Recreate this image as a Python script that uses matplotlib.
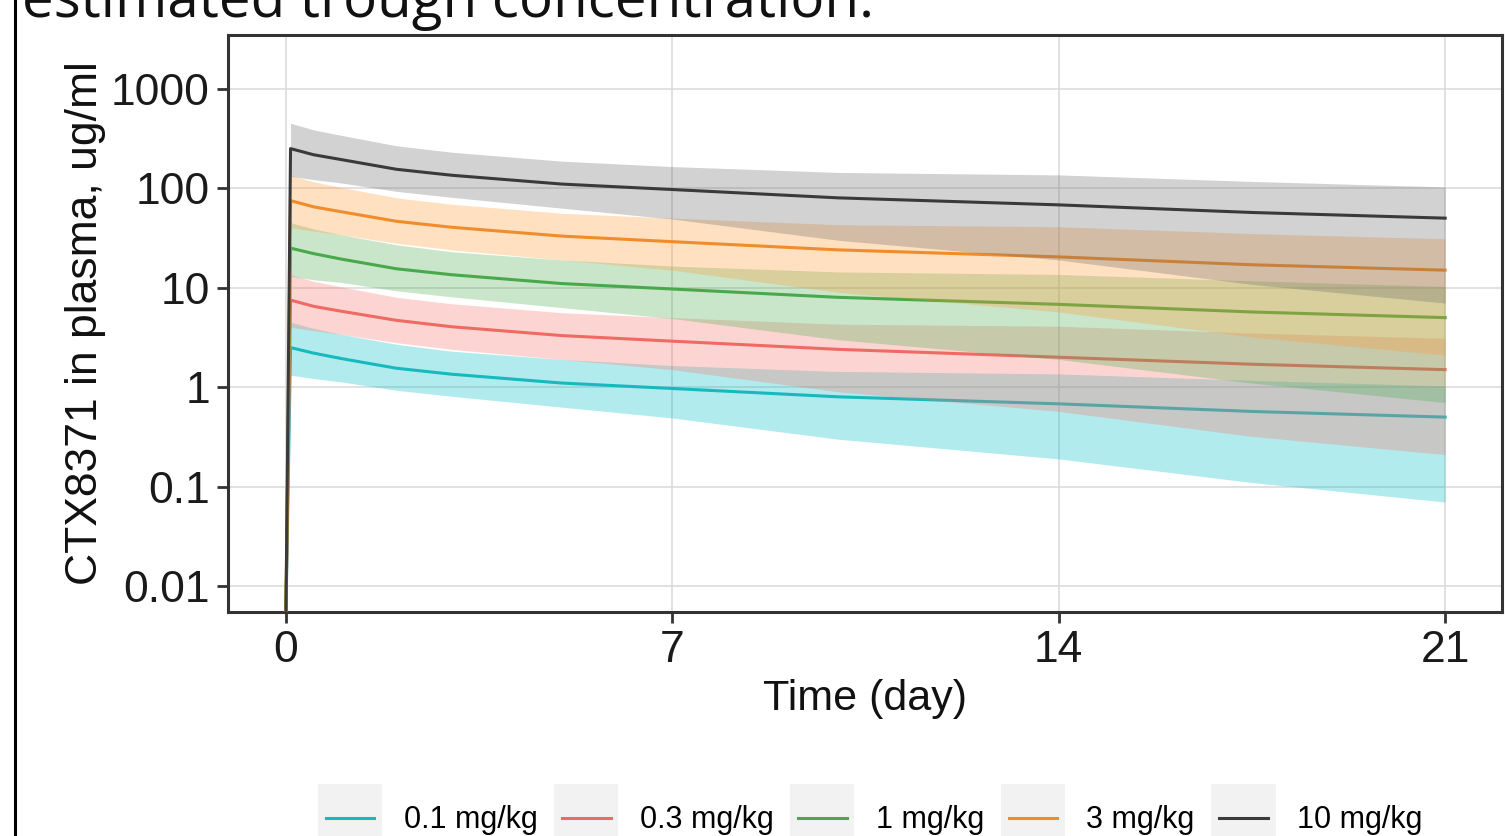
import matplotlib
matplotlib.use("Agg")
import matplotlib.pyplot as plt
from matplotlib.lines import Line2D
from matplotlib.patches import Rectangle
from matplotlib.legend_handler import HandlerBase

plt.rcParams['font.family'] = ['Liberation Sans', 'DejaVu Sans']

# time in days (0 = start of dosing, 0.083 = end of infusion)
time = [0, 0.083, 0.5, 1, 2, 3, 5, 7, 10, 14, 17.5, 21]

doses = ['0.1 mg/kg', '0.3 mg/kg', '1 mg/kg', '3 mg/kg', '10 mg/kg']
colors = ['#17B9BE', '#EF6A63', '#48A84B', '#F08C2A', '#3A3A3A']
fills = ['#00BFC4', '#F8766D', '#4CAF50', '#FF9A33', '#6A6A6A']

# median concentration, ug/ml
med_01 = [0, 2.5, 2.2, 1.94, 1.55, 1.35, 1.1, 0.97, 0.8, 0.68, 0.57, 0.5]
med_03 = [0, 7.5, 6.5, 5.8, 4.7, 4.05, 3.3, 2.9, 2.4, 2.0, 1.7, 1.5]
med_1 = [0, 25, 22, 19.4, 15.5, 13.5, 11, 9.7, 8, 6.8, 5.7, 5]
med_3 = [0, 75, 65, 58, 46.5, 40.5, 33, 29, 24, 20.4, 17, 15]
med_10 = [0, 250, 217, 194, 155, 135, 110, 97, 80, 68, 57, 50]

# prediction interval, from t = 0.083 on
lo_01 = [1.32, 1.22, 1.13, 0.93, 0.81, 0.63, 0.49, 0.30, 0.19, 0.11, 0.07]
hi_01 = [4.5, 3.9, 3.4, 2.7, 2.3, 1.9, 1.65, 1.44, 1.36, 1.17, 1.03]
lo_03 = [4.0, 3.7, 3.4, 2.8, 2.4, 1.9, 1.5, 0.9, 0.57, 0.32, 0.21]
hi_03 = [13.5, 11.6, 10.2, 8, 6.9, 5.6, 5.0, 4.3, 4.1, 3.5, 3.1]
lo_1 = [13, 12, 11.3, 9.3, 8.1, 6.3, 4.9, 3.0, 1.9, 1.1, 0.7]
hi_1 = [45, 39, 34, 27, 23, 19, 16.5, 14.4, 13.6, 11.7, 10.3]
lo_3 = [40, 37, 34, 28, 24, 19, 15, 9, 5.7, 3.2, 2.1]
hi_3 = [135, 116, 102, 80, 69, 56, 50, 43, 41, 35, 31]
lo_10 = [132, 122, 113, 93, 81, 63, 49, 30, 19, 10.8, 7]
hi_10 = [450, 386, 340, 267, 230, 187, 165, 144, 136, 117, 103]

medians = [med_01, med_03, med_1, med_3, med_10]
lows = [lo_01, lo_03, lo_1, lo_3, lo_10]
highs = [hi_01, hi_03, hi_1, hi_3, hi_10]

x_ticks = [0, 7, 14, 21]
y_ticks = [0.01, 0.1, 1, 10, 100, 1000]
y_labels = ['0.01', '0.1', '1', '10', '100', '1000']

y_lo, y_hi = 10 ** -2.26, 10 ** 3.54


class KeyHandler(HandlerBase):
    # grey key box with a short line, like ggplot legend keys
    def create_artists(self, legend, orig_handle, xdescent, ydescent,
                       width, height, fontsize, trans):
        bg = Rectangle((-xdescent, -ydescent - 12), width, height + 24,
                       facecolor='#F2F2F2', edgecolor='none', transform=trans)
        y = height / 2 - ydescent
        ln = Line2D([-xdescent + 0.12 * width, -xdescent + 0.88 * width], [y, y],
                    color=orig_handle.get_color(), lw=orig_handle.get_linewidth(),
                    transform=trans)
        return [bg, ln]


fig = plt.figure(figsize=(15.05, 8.36), dpi=100)
ax = fig.add_axes([228 / 1505, 1 - 612 / 836, 1274 / 1505, 577 / 836])

handles = []
for i in range(len(doses)):
    ax.fill_between(time[1:], lows[i], highs[i], color=fills[i], alpha=0.3,
                    linewidth=0, zorder=2 + 2 * i)
    # zero on a log axis goes to the panel edge, as ggplot draws -Inf
    shown = [max(v, y_lo) for v in medians[i]]
    h, = ax.plot(time, shown, color=colors[i], lw=2.2, zorder=3 + 2 * i,
                 label=doses[i])
    handles.append(h)

ax.set_yscale('log')
ax.set_xlim(-1.05, 22.03)
ax.set_ylim(y_lo, y_hi)
ax.set_xticks(x_ticks)
ax.set_xticklabels([str(t) for t in x_ticks])
ax.set_yticks(y_ticks)
ax.set_yticklabels(y_labels)
ax.minorticks_off()
ax.grid(True, color='#D9D9D9', lw=1.1, zorder=0)
ax.set_axisbelow(True)
for s in ax.spines.values():
    s.set_color('#333333')
    s.set_linewidth(2.2)
ax.tick_params(axis='both', length=8, width=2, color='#333333',
               labelsize=32, labelcolor='#1A1A1A', pad=5)
ax.set_xlabel('Time (day)', fontsize=31, color='#111111', labelpad=6)
ax.set_ylabel('CTX8371 in plasma, ug/ml', fontsize=32, color='#111111', labelpad=4)

fig.legend(handles=handles, labels=doses, ncol=5, loc='center left',
           bbox_to_anchor=(318 / 1505, 1 - 818 / 836), frameon=False,
           fontsize=22, handlelength=2.1, handleheight=1.4, handletextpad=0.7,
           columnspacing=0.55, borderpad=0, borderaxespad=0,
           handler_map={Line2D: KeyHandler()})

fig.text(22 / 1505, 1 - 17 / 836, 'estimated trough concentration.',
         fontsize=40.7, family=['Open Sans', 'DejaVu Sans'], va='baseline',
         color='#111111')
fig.add_artist(Line2D([15 / 1505, 15 / 1505], [0, 1], color='black', lw=2.2,
                      transform=fig.transFigure))

fig.savefig('out.png', dpi=100)
